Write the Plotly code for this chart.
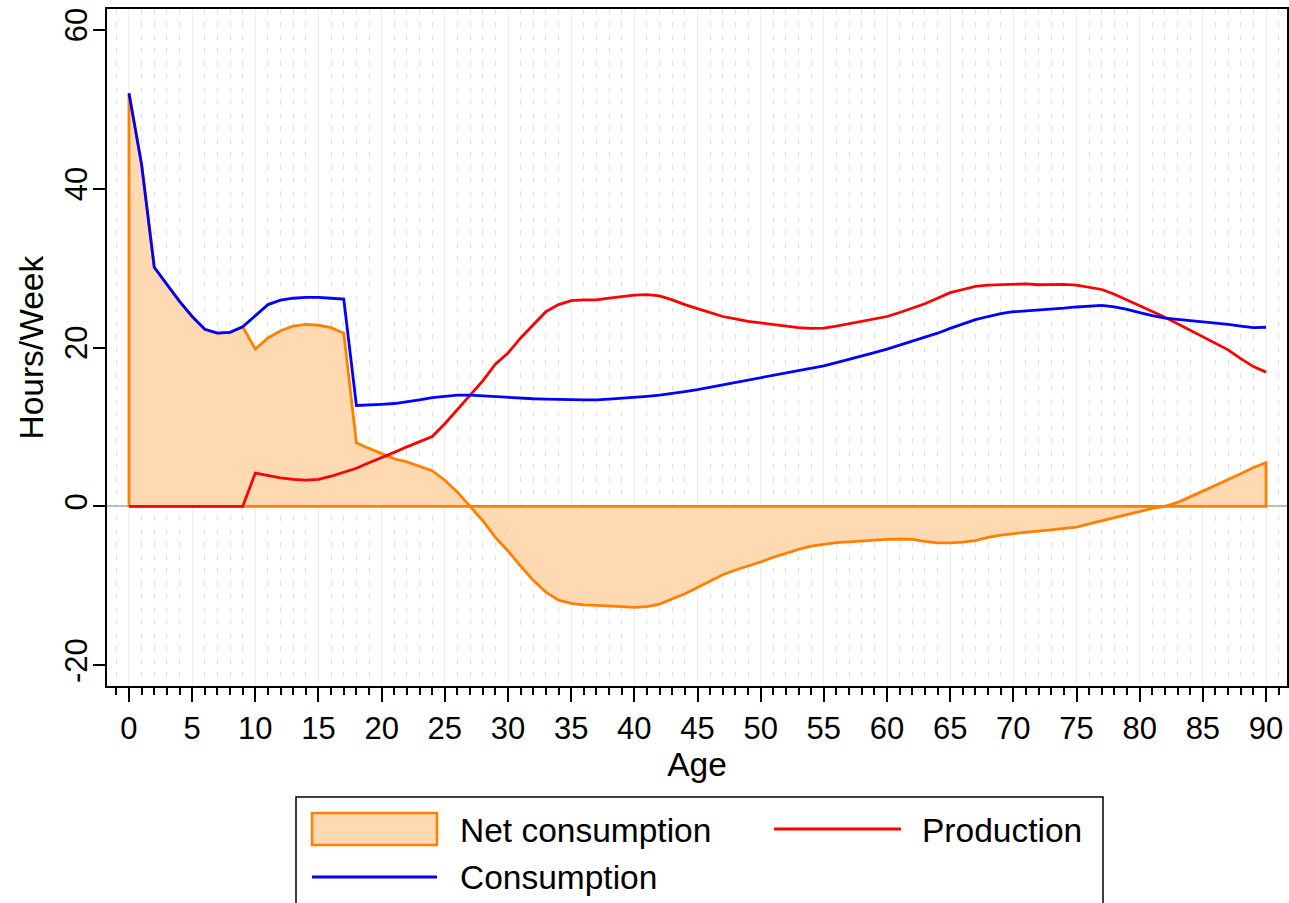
import plotly.graph_objects as go

ages = list(range(0, 91))

consumption = [
    52.0, 43.0, 30.1, 27.9, 25.8, 23.9, 22.3, 21.8, 21.9, 22.6,
    24.0, 25.4, 25.95, 26.2, 26.3, 26.3, 26.2, 26.1, 12.7, 12.75,
    12.85, 12.95, 13.15, 13.4, 13.7, 13.85, 14.0, 14.0, 13.9, 13.8,
    13.7, 13.6, 13.55, 13.5, 13.5, 13.45, 13.4, 13.4, 13.5, 13.6,
    13.7, 13.85, 14.0, 14.2, 14.45, 14.7, 15.0, 15.3, 15.6, 15.9,
    16.2, 16.5, 16.8, 17.05, 17.4, 17.7, 18.1, 18.5, 18.9, 19.35,
    19.8, 20.3, 20.8, 21.3, 21.8, 22.4, 23.0, 23.5, 23.9, 24.25,
    24.5, 24.6, 24.7, 24.8, 24.95, 25.1, 25.2, 25.3, 25.1, 24.8,
    24.4, 24.0, 23.7, 23.55, 23.4, 23.25, 23.1, 22.9, 22.7, 22.5,
    22.55,
]

production = [
    0, 0, 0, 0, 0, 0, 0, 0, 0, 0,
    4.2, 3.9, 3.6, 3.4, 3.3, 3.4, 3.8, 4.3, 4.8, 5.5,
    6.2, 6.8, 7.5, 8.1, 8.8, 10.4, 12.2, 14.0, 15.8, 17.9,
    19.3, 21.2, 22.9, 24.5, 25.4, 25.9, 26.0, 26.0, 26.2, 26.4,
    26.6, 26.65, 26.5, 26.0, 25.4, 24.9, 24.4, 23.9, 23.6, 23.3,
    23.1, 22.9, 22.7, 22.5, 22.4, 22.45, 22.7, 23.0, 23.3, 23.6,
    23.9, 24.4, 24.9, 25.5, 26.2, 26.9, 27.3, 27.7, 27.85, 27.9,
    27.95, 28.0, 27.9, 27.95, 27.95, 27.85, 27.6, 27.3, 26.7, 26.0,
    25.3, 24.6, 23.8, 23.0, 22.2, 21.4, 20.5, 19.7, 18.6, 17.6,
    16.9,
]

net_consumption = [
    52.0, 43.0, 30.1, 27.9, 25.8, 23.9, 22.3, 21.8, 21.9, 22.6,
    19.8, 21.2, 22.1, 22.7, 22.9, 22.8, 22.5, 21.8, 8.0, 7.3,
    6.6, 6.0, 5.6, 5.1, 4.5, 3.3, 1.8, 0.0, -1.8, -3.9,
    -5.6, -7.5, -9.3, -10.8, -11.8, -12.2, -12.4, -12.45, -12.5, -12.6,
    -12.7, -12.6, -12.3, -11.7, -11.0, -10.2, -9.4, -8.6, -8.0, -7.5,
    -7.0, -6.4, -5.9, -5.4, -5.0, -4.75, -4.55, -4.45, -4.35, -4.2,
    -4.15, -4.1, -4.15, -4.4, -4.6, -4.6, -4.5, -4.3, -3.9, -3.6,
    -3.4, -3.25, -3.1, -2.95, -2.8, -2.6, -2.2, -1.8, -1.4, -1.0,
    -0.6, -0.25, 0.0, 0.5, 1.2, 1.9, 2.6, 3.4, 4.1, 4.9,
    5.5,
]

x_ticks = list(range(0, 91, 5))
y_ticks = [-20, 0, 20, 40, 60]
legend_labels = ["Net consumption", "Production", "Consumption"]
x_title = "Age"
y_title = "Hours/Week"

FONT = "Arial, Liberation Sans, sans-serif"
ORANGE = "#FF8000"
FILL = "#FFD9B2"
RED = "#FF0000"
BLUE = "#0000FF"
LW = 2.8

fig = go.Figure()

# Net consumption area (closed polygon down to zero)
area_x = [ages[0]] + ages + [ages[-1], ages[0]]
area_y = [0] + net_consumption + [0, 0]
fig.add_trace(go.Scatter(
    x=area_x, y=area_y, mode="lines", fill="toself",
    fillcolor=FILL, line=dict(color=ORANGE, width=LW),
    name=legend_labels[0], showlegend=False,
))
fig.add_trace(go.Scatter(
    x=ages, y=production, mode="lines",
    line=dict(color=RED, width=LW), name=legend_labels[1], showlegend=False,
))
fig.add_trace(go.Scatter(
    x=ages, y=consumption, mode="lines",
    line=dict(color=BLUE, width=LW), name=legend_labels[2], showlegend=False,
))

fig.update_layout(
    width=1289, height=903,
    margin=dict(l=107, r=2, t=9, b=217, autoexpand=False),
    paper_bgcolor="white", plot_bgcolor="white",
    font=dict(family=FONT, color="black", size=33),
    showlegend=False,
)

fig.update_xaxes(
    automargin=False,
    range=[-1.74, 91.66],
    tickmode="array", tickvals=x_ticks, ticktext=[str(v) for v in x_ticks],
    ticks="outside", ticklen=14, tickwidth=2, tickcolor="black",
    tickfont=dict(size=31), ticklabelstandoff=0,
    showline=True, linecolor="black", linewidth=2, mirror=True,
    showgrid=True, gridcolor="#ececec", gridwidth=1.2,
    zeroline=False,
    minor=dict(dtick=1, tick0=0, ticks="outside", ticklen=7, tickwidth=1.5,
               tickcolor="black", showgrid=True, gridcolor="#e0e0e0",
               gridwidth=1, griddash="5px,8px"),
    title=dict(text=x_title, font=dict(size=33.5), standoff=0),
)

fig.update_yaxes(
    automargin=False,
    range=[-22.6, 62.6],
    tickmode="array", tickvals=y_ticks, ticktext=[str(v) for v in y_ticks],
    tickangle=-90,
    ticks="outside", ticklen=12, tickwidth=2, tickcolor="black",
    tickfont=dict(size=31), ticklabelstandoff=-6,
    showline=True, linecolor="black", linewidth=2, mirror=True,
    showgrid=False,
    zeroline=True, zerolinecolor="#bdbdbd", zerolinewidth=1.5,
)

W, H, L, B = 1180.0, 677.0, 107.0, 686.0
px = lambda v: (v - L) / W
py = lambda v: (B - v) / H

# Y axis title
fig.add_annotation(text=y_title, xref="paper", yref="paper",
                   x=px(31), y=0.5, xanchor="center", yanchor="middle",
                   textangle=-90, showarrow=False,
                   font=dict(size=33.5, family=FONT, color="black"))

# Manual legend (box extends below the page edge as in the reference)
fig.add_shape(type="rect", xref="paper", yref="paper",
              x0=px(296), x1=px(1103), y0=py(797), y1=py(960),
              line=dict(color="black", width=1.5), fillcolor="white", layer="above")
fig.add_shape(type="rect", xref="paper", yref="paper",
              x0=px(312), x1=px(437), y0=py(813), y1=py(845),
              line=dict(color=ORANGE, width=2.5), fillcolor=FILL, layer="above")
fig.add_shape(type="line", xref="paper", yref="paper",
              x0=px(774), x1=px(901), y0=py(829), y1=py(829),
              line=dict(color=RED, width=LW), layer="above")
fig.add_shape(type="line", xref="paper", yref="paper",
              x0=px(312), x1=px(437), y0=py(877), y1=py(877),
              line=dict(color=BLUE, width=LW), layer="above")

for text, xx, yy in [(legend_labels[0], 458, 830), (legend_labels[1], 920, 830),
                     (legend_labels[2], 458, 877)]:
    fig.add_annotation(text=text, xref="paper", yref="paper",
                       x=px(xx), y=py(yy), xanchor="left", yanchor="middle",
                       showarrow=False, font=dict(size=33.5, family=FONT, color="black"))

fig.write_html(
    "out.html",
    config={"displayModeBar": False},
    post_script="document.body.style.margin='0px';document.body.style.overflow='hidden';",
)
